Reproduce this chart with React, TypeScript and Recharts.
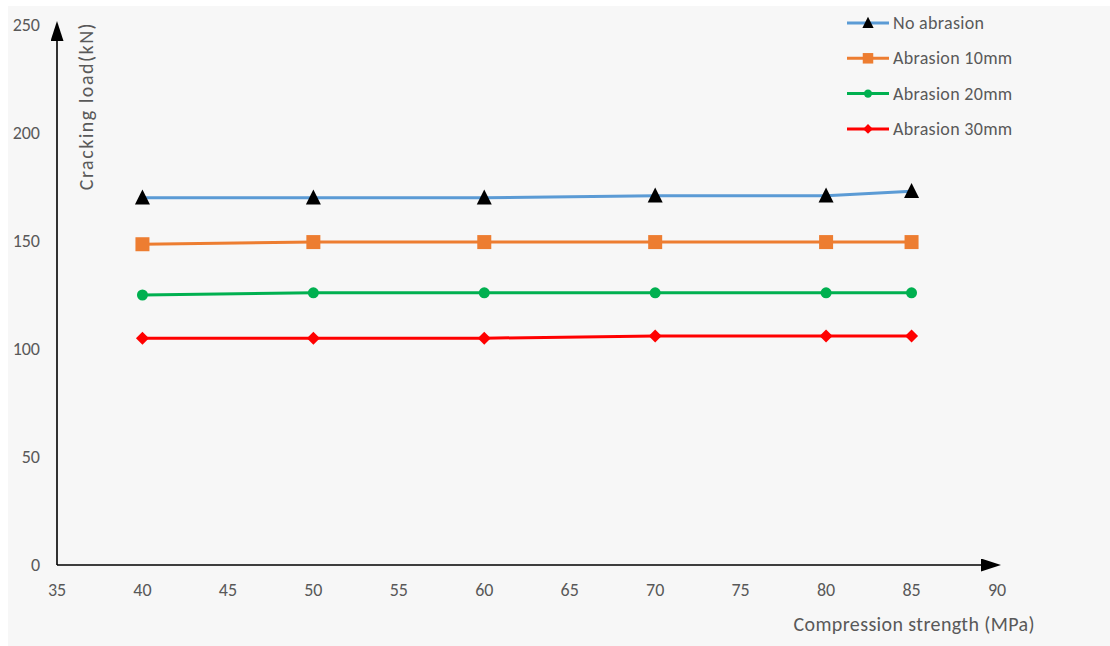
import { LineChart, Line, XAxis, YAxis } from 'recharts'

const strengths = [40, 50, 60, 70, 80, 85]
const noAbrasion = [170, 170, 170, 171, 171, 173]
const abrasion10 = [148.5, 149.5, 149.5, 149.5, 149.5, 149.5]
const abrasion20 = [125, 126, 126, 126, 126, 126]
const abrasion30 = [105, 105, 105, 106, 106, 106]
const xTicks = [35, 40, 45, 50, 55, 60, 65, 70, 75, 80, 85, 90]
const yTicks = [0, 50, 100, 150, 200, 250]

const data = strengths.map((s, i) => ({
  s,
  no: noAbrasion[i],
  a10: abrasion10[i],
  a20: abrasion20[i],
  a30: abrasion30[i],
}))

const FONT = 'Carlito, Calibri, Lato, sans-serif'
const TEXT = '#595959'

type Shape = 'triangle' | 'square' | 'circle' | 'diamond'

function marker(shape: Shape, cx: number, cy: number, fill: string, s: number) {
  if (shape === 'triangle')
    return <path d={`M${cx},${cy - s * 0.55} L${cx + s / 2},${cy + s * 0.45} L${cx - s / 2},${cy + s * 0.45} Z`} fill={fill} />
  if (shape === 'square')
    return <rect x={cx - s / 2} y={cy - s / 2} width={s} height={s} fill={fill} />
  if (shape === 'circle') return <circle cx={cx} cy={cy} r={s / 2} fill={fill} />
  return <path d={`M${cx},${cy - s / 2} L${cx + s / 2},${cy} L${cx},${cy + s / 2} L${cx - s / 2},${cy} Z`} fill={fill} />
}

const series = [
  { key: 'no', name: 'No abrasion', color: '#5B9BD5', shape: 'triangle' as Shape, mColor: '#000000', size: 15 },
  { key: 'a10', name: 'Abrasion 10mm', color: '#ED7D31', shape: 'square' as Shape, mColor: '#ED7D31', size: 14 },
  { key: 'a20', name: 'Abrasion 20mm', color: '#00B050', shape: 'circle' as Shape, mColor: '#00B050', size: 11 },
  { key: 'a30', name: 'Abrasion 30mm', color: '#FF0000', shape: 'diamond' as Shape, mColor: '#FF0000', size: 13 },
]

function LegendBox() {
  return (
    <svg width={220} height={150} style={{ position: 'absolute', left: 840, top: 6 }}>
      {series.map((s, i) => {
        const y = 17 + i * 35.3
        return (
          <g key={s.key}>
            <line x1={7} x2={49} y1={y} y2={y} stroke={s.color} strokeWidth={3} />
            {marker(s.shape, 28, y, s.mColor, s.size * 0.75)}
            <text x={53} y={y + 6} fontSize={18} fill={TEXT} fontFamily={FONT} letterSpacing={0.3}>
              {s.name}
            </text>
          </g>
        )
      })}
    </svg>
  )
}

export default function App() {
  return (
    <div style={{ position: 'absolute', left: 0, top: 0, width: 1110, height: 646, background: '#fff' }}>
      <svg width={0} height={0} style={{ position: 'absolute' }}>
        <defs>
          <marker
            id="axisArrow"
            viewBox="0 0 20 13"
            refX={16}
            refY={6.5}
            markerWidth={20}
            markerHeight={13}
            markerUnits="userSpaceOnUse"
            orient="auto-start-reverse"
          >
            <path d="M0,0 L20,6.5 L0,13 Z" fill="#000" />
          </marker>
        </defs>
      </svg>
      <div style={{ position: 'absolute', left: 8, top: 6, width: 1102, height: 640, background: '#f7f7f7' }} />
      <div style={{ position: 'absolute', left: 0, top: 0 }}>
        <LineChart width={1110} height={646} data={data} margin={{ top: 25, right: 113, left: 0, bottom: 0 }}>
          <XAxis
            dataKey="s"
            type="number"
            domain={[35, 90]}
            ticks={xTicks}
            interval={0}
            height={81}
            tickLine={false}
            tickSize={0}
            tickMargin={18}
            axisLine={{ stroke: '#000', strokeWidth: 1.6, markerEnd: 'url(#axisArrow)' }}
            tick={{ fill: TEXT, fontSize: 18, fontFamily: FONT }}
            label={(props: any) => {
              const vb = props.viewBox
              return (
                <text x={vb.x + vb.width + 38} y={vb.y + 66} textAnchor="end" fontSize={20} fill={TEXT} fontFamily={FONT} letterSpacing={0.4}>
                  Compression strength (MPa)
                </text>
              )
            }}
          />
          <YAxis
            type="number"
            domain={[0, 250]}
            ticks={yTicks}
            width={57}
            tickLine={false}
            tickSize={0}
            tickMargin={17}
            axisLine={{ stroke: '#000', strokeWidth: 1.6, markerStart: 'url(#axisArrow)' }}
            tick={{ fill: TEXT, fontSize: 18, fontFamily: FONT }}
            label={(props: any) => {
              const vb = props.viewBox
              const x = vb.x + vb.width + 36
              const y = vb.y + 81
              return (
                <text x={x} y={y} transform={`rotate(-90 ${x} ${y})`} textAnchor="middle" fontSize={20} fill={TEXT} fontFamily={FONT} letterSpacing={1.5}>
                  Cracking load(kN)
                </text>
              )
            }}
          />
          {series.map((s) => (
            <Line
              key={s.key}
              dataKey={s.key}
              name={s.name}
              stroke={s.color}
              strokeWidth={3}
              isAnimationActive={false}
              activeDot={false}
              dot={(p: any) => <g key={`${s.key}-${p.index}`}>{marker(s.shape, p.cx, p.cy, s.mColor, s.size)}</g>}
            />
          ))}
        </LineChart>
      </div>
      <LegendBox />
    </div>
  )
}
